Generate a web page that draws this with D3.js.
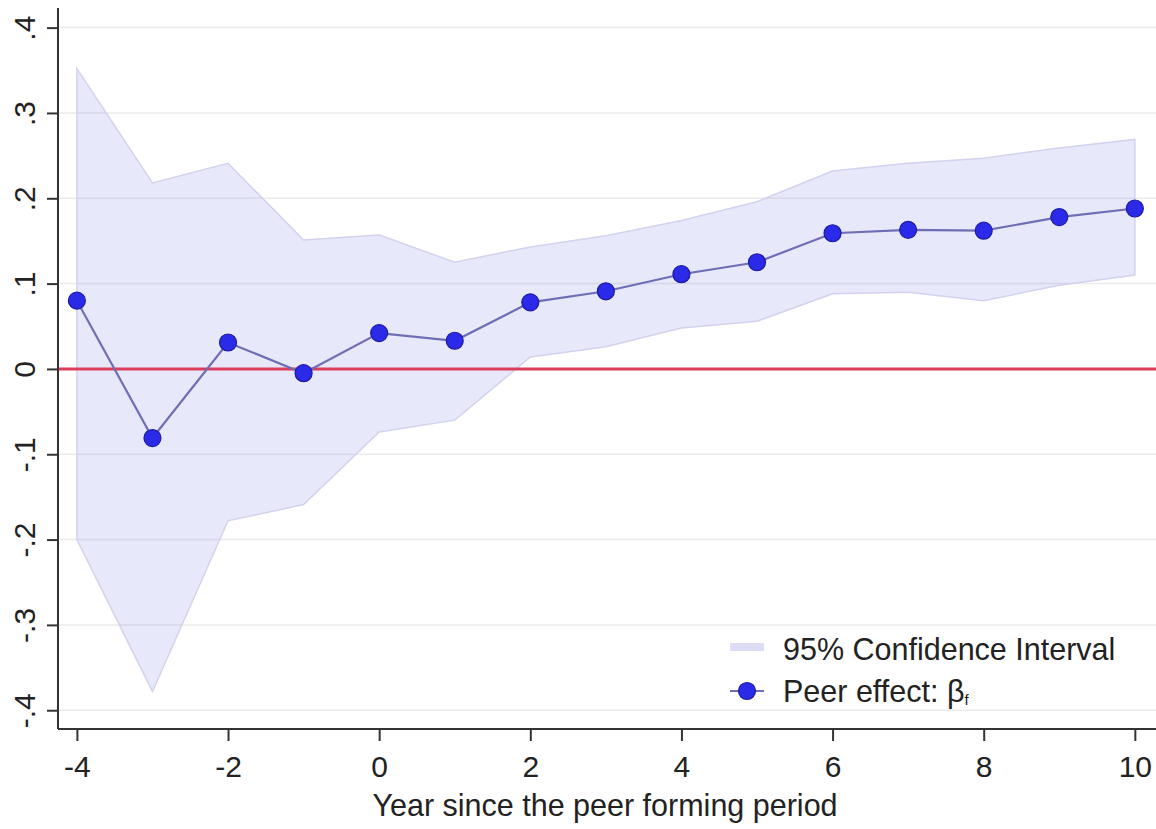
<!DOCTYPE html>
<html>
<head>
<meta charset="utf-8">
<script src="https://cdn.jsdelivr.net/npm/d3@7"></script>
<style>
  body { margin: 0; background: #fff; }
  text { font-family: "Liberation Sans", Arial, sans-serif; fill: #222; }
</style>
</head>
<body>
<div id="chart"></div>
<script>
var years = [-4, -3, -2, -1, 0, 1, 2, 3, 4, 5, 6, 7, 8, 9, 10];
var beta = [0.080, -0.081, 0.031, -0.005, 0.042, 0.033, 0.078, 0.091, 0.111, 0.125, 0.159, 0.163, 0.162, 0.178, 0.188];
var ciUpper = [0.352, 0.218, 0.241, 0.151, 0.157, 0.125, 0.143, 0.156, 0.174, 0.196, 0.232, 0.241, 0.247, 0.259, 0.269];
var ciLower = [-0.200, -0.378, -0.178, -0.159, -0.074, -0.060, 0.014, 0.026, 0.048, 0.056, 0.088, 0.090, 0.080, 0.098, 0.110];

var xTicks = [-4, -2, 0, 2, 4, 6, 8, 10];
var yTicks = [-0.4, -0.3, -0.2, -0.1, 0, 0.1, 0.2, 0.3, 0.4];
var yTickLabels = ["-.4", "-.3", "-.2", "-.1", "0", ".1", ".2", ".3", ".4"];

var legendLabels = ["95% Confidence Interval", "Peer effect: \u03b2"];

var width = 1156, height = 829;
var plotLeft = 58, plotRight = 1156, plotTop = 8, plotBottom = 729;

var x = d3.scaleLinear().domain([-4.25, 10.28]).range([plotLeft, plotRight]);
var y = d3.scaleLinear().domain([-0.422, 0.423]).range([plotBottom, plotTop]);

var svg = d3.select("#chart").append("svg")
  .attr("width", width)
  .attr("height", height)

// grid lines
svg.append("g").selectAll("line")
  .data(yTicks.filter(function(d){ return d != 0 }))
  .enter().append("line")
    .attr("x1", plotLeft).attr("x2", plotRight)
    .attr("y1", function(d){ return y(d) }).attr("y2", function(d){ return y(d) })
    .attr("stroke", "#ebebeb")
    .attr("stroke-width", 1.5)

var pts = years.map(function(yr, i){
  return {x: yr, b: beta[i], lo: ciLower[i], hi: ciUpper[i]}
})

var area = d3.area()
  .x(function(d){ return x(d.x) })
  .y0(function(d){ return y(d.lo) })
  .y1(function(d){ return y(d.hi) });

svg.append("path")
  .datum(pts)
  .attr("d", area)
  .attr("fill", "rgba(100,100,230,0.15)")
  .attr("stroke", "#d2d2ee")
  .attr("stroke-width", 1.5)

// zero line
svg.append("line")
  .attr("x1", plotLeft).attr("x2", plotRight)
  .attr("y1", y(0)).attr("y2", y(0))
  .attr("stroke", "#dc3d5a")
  .attr("stroke-width", 3)

var line = d3.line()
  .x(function(d){ return x(d.x) })
  .y(function(d){ return y(d.b) });

svg.append("path")
  .datum(pts)
  .attr("d", line)
  .attr("fill", "none")
  .attr("stroke", "#6e6eb4")
  .attr("stroke-width", 2.2)

svg.append("g").selectAll("circle")
  .data(pts)
  .enter().append("circle")
    .attr("cx", function(d){ return x(d.x) })
    .attr("cy", function(d){ return y(d.b) })
    .attr("r", 8.5)
    .attr("fill", "#2a2ae8")
    .attr("stroke", "#1c1ca0")
    .attr("stroke-width", 1.2)

// axes
var yAxis = d3.axisLeft(y)
  .tickValues(yTicks)
  .tickSize(11)
  .tickFormat(function(d, i){ return yTickLabels[i] });

var gy = svg.append("g")
  .attr("transform", "translate(" + plotLeft + ",0)")
  .call(yAxis)
gy.select(".domain").attr("stroke", "#333").attr("stroke-width", 2)
  .attr("d", "M0," + plotTop + "V" + plotBottom)
gy.selectAll(".tick line").attr("stroke", "#333").attr("stroke-width", 2)
gy.selectAll(".tick text")
  .attr("font-size", 30)
  .attr("fill", "#222")
  .attr("text-anchor", "middle")
  .attr("x", 0).attr("dy", 0)
  .attr("transform", "translate(-23,0) rotate(-90)")

var xAxis = d3.axisBottom(x)
  .tickValues(xTicks)
  .tickSize(12)
  .tickFormat(d3.format("d"));

var gx = svg.append("g")
  .attr("transform", "translate(0," + plotBottom + ")")
  .call(xAxis)
gx.select(".domain").attr("stroke", "#333").attr("stroke-width", 2)
  .attr("d", "M" + plotLeft + ",0H" + plotRight)
gx.selectAll(".tick line").attr("stroke", "#333").attr("stroke-width", 2)
gx.selectAll(".tick text")
  .attr("font-size", 30)
  .attr("fill", "#222")
  .attr("y", 48).attr("dy", 0)
  .text(function(d){ return d < 0 ? "-" + Math.abs(d) : d })

svg.append("text")
  .attr("x", (plotLeft + plotRight) / 2 - 2)
  .attr("y", 816)
  .attr("text-anchor", "middle")
  .attr("font-size", 30.5)
  .text("Year since the peer forming period")

// legend
var legend = svg.append("g").attr("transform", "translate(730,0)")
legend.append("rect")
  .attr("x", 0).attr("y", 643)
  .attr("width", 34).attr("height", 8)
  .attr("fill", "#dcdcf4")
legend.append("text")
  .attr("x", 53).attr("y", 660)
  .attr("font-size", 30.5)
  .text(legendLabels[0])
legend.append("line")
  .attr("x1", 0).attr("x2", 34)
  .attr("y1", 691).attr("y2", 691)
  .attr("stroke", "#6e6eb4").attr("stroke-width", 2)
legend.append("circle")
  .attr("cx", 17).attr("cy", 691).attr("r", 8.5)
  .attr("fill", "#2a2ae8").attr("stroke", "#1c1ca0").attr("stroke-width", 1.2)
var lt = legend.append("text")
  .attr("x", 53).attr("y", 702)
  .attr("font-size", 30.5)
  .text(legendLabels[1])
lt.append("tspan")
  .attr("font-size", 15)
  .attr("dy", 3)
  .text("f")
</script>
</body>
</html>
